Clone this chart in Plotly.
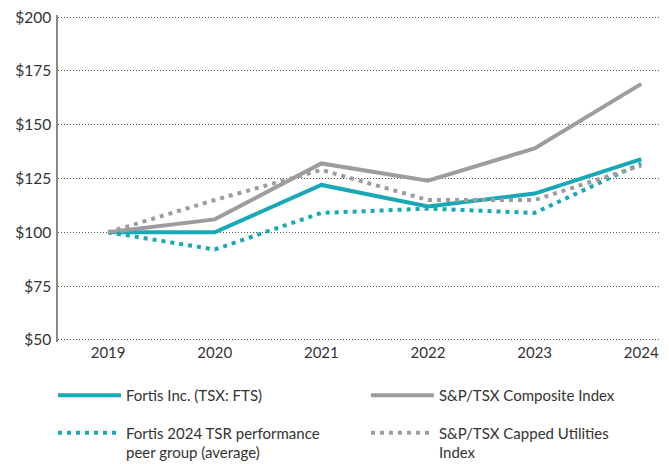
import plotly.graph_objects as go

years = ["2019", "2020", "2021", "2022", "2023", "2024"]
fortis = [100, 100, 122, 112, 118, 134]
composite = [100, 106, 132, 124, 139, 169]
peer = [100, 92, 109, 111, 109, 132]
utilities = [100, 115, 129, 115, 115, 131]
y_ticks = [50, 75, 100, 125, 150, 175, 200]
y_labels = ["$50", "$75", "$100", "$125", "$150", "$175", "$200"]

TEAL = "#19a8b6"
GRAY = "#9d9da0"
FONT = "Lato"
TXT = "#333333"

fig = go.Figure()
fig.add_trace(go.Scatter(x=years, y=fortis, mode="lines", name="Fortis Inc. (TSX: FTS)",
                         legend="legend", legendgroup="a",
                         line=dict(color=TEAL, width=4)))
fig.add_trace(go.Scatter(x=years, y=composite, mode="lines", name="S&P/TSX Composite Index",
                         legend="legend2", legendgroup="b",
                         line=dict(color=GRAY, width=4)))
fig.add_trace(go.Scatter(x=years, y=peer, mode="lines",
                         name="Fortis 2024 TSR performance<br>peer group (average)",
                         legend="legend", legendgroup="c",
                         line=dict(color=TEAL, width=4, dash="4px,5px")))
fig.add_trace(go.Scatter(x=years, y=utilities, mode="lines",
                         name="S&P/TSX Capped Utilities<br>Index",
                         legend="legend2", legendgroup="d",
                         line=dict(color=GRAY, width=4, dash="4px,5px")))

leg_common = dict(orientation="v", xref="paper", yref="container",
                  xanchor="left", yanchor="top", y=0.1864,
                  itemwidth=63, tracegroupgap=15, valign="top",
                  font=dict(family=FONT, size=15, color=TXT),
                  traceorder="grouped", bgcolor="rgba(0,0,0,0)")

fig.update_layout(
    width=661, height=456,
    margin=dict(l=50, r=0, t=7, b=122),
    paper_bgcolor="white", plot_bgcolor="white",
    font=dict(family=FONT, size=15, color=TXT),
    showlegend=True,
    legend=dict(x=-0.0082, **leg_common),
    legend2=dict(x=0.504, **leg_common),
    xaxis=dict(type="category", range=[-0.47, 5.26], showgrid=False, showline=False,
               ticks="", tickfont=dict(size=15, color=TXT), zeroline=False,
               automargin=False),
    yaxis=dict(range=[49, 201], tickvals=y_ticks, ticktext=y_labels, showgrid=True,
               gridcolor="#555555", griddash="1px,2px", gridwidth=1,
               showline=True, linecolor="#888888", linewidth=1.5, ticks="",
               zeroline=False, tickfont=dict(size=15.5, color=TXT), automargin=False,
               ticklabeloverflow="allow", ticklabelstandoff=2),
)

fig.write_html("out.html")
